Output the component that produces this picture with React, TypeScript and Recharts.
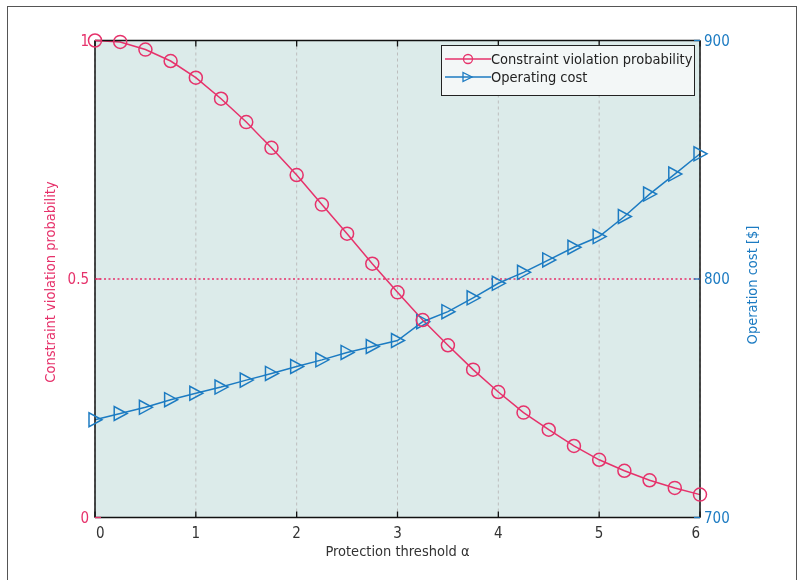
import { LineChart, Line, XAxis, YAxis, CartesianGrid, ReferenceLine, Legend } from 'recharts'

const alpha = [0, 0.25, 0.5, 0.75, 1, 1.25, 1.5, 1.75, 2, 2.25, 2.5, 2.75, 3, 3.25, 3.5, 3.75, 4, 4.25, 4.5, 4.75, 5, 5.25, 5.5, 5.75, 6]
const violationProb = [1.0, 0.997, 0.981, 0.957, 0.922, 0.878, 0.829, 0.775, 0.718, 0.656, 0.595, 0.532, 0.472, 0.414, 0.361, 0.31, 0.263, 0.22, 0.184, 0.15, 0.121, 0.098, 0.078, 0.062, 0.048]
const operatingCost = [741, 743.6, 746.2, 749.4, 752.1, 754.7, 757.6, 760.4, 763.3, 766.1, 769.2, 771.7, 774.2, 782.1, 786.3, 792.1, 798.2, 802.8, 808, 813.3, 817.8, 826.2, 835.6, 844, 852.5]
const xTicks = [0, 1, 2, 3, 4, 5, 6]
const probTicks = [0, 0.5, 1]
const costTicks = [700, 800, 900]

const PINK = '#e6326b'
const BLUE = '#1c7bc2'
const TEXT = '#333'
const FONT = '"DejaVu Sans Condensed", "Liberation Sans Narrow", "Roboto", sans-serif'
const FS = 14.5

const data = alpha.map((a, i) => ({ alpha: a, prob: violationProb[i], cost: operatingCost[i] }))

const legendItems = [
  { name: 'Constraint violation probability', color: PINK, marker: 'circle' },
  { name: 'Operating cost', color: BLUE, marker: 'triangle' },
]

function CircleDot(props: any) {
  const { cx, cy, index } = props
  return <circle key={`c${index}`} cx={cx} cy={cy} r={6.5} fill="none" stroke={PINK} strokeWidth={1.5} />
}

function TriangleDot(props: any) {
  const { cx, cy, index } = props
  return (
    <polygon
      key={`t${index}`}
      points={`${cx - 6},${cy - 7} ${cx - 6},${cy + 7} ${cx + 7},${cy}`}
      fill="none"
      stroke={BLUE}
      strokeWidth={1.5}
    />
  )
}

function XTick(props: any) {
  const { x, y, payload } = props
  const anchor = payload.value === 0 ? 'start' : payload.value === 6 ? 'end' : 'middle'
  return (
    <text x={anchor === 'start' ? x + 1 : x} y={y + 20} textAnchor={anchor} fill={TEXT} fontSize={FS + 0.5} fontFamily={FONT}>
      {payload.value}
    </text>
  )
}

function LegendBox() {
  return (
    <div style={{ width: 252, height: 45, border: '1px solid #222', background: '#f3f7f7', fontFamily: FONT, fontSize: FS, color: '#222', paddingTop: 4, boxSizing: 'content-box' }}>
      {legendItems.map((item) => (
        <div key={item.name} style={{ display: 'flex', alignItems: 'center', height: 18, lineHeight: '18px' }}>
          <svg width={49} height={18} style={{ flex: 'none' }}>
            <line x1={3} x2={49} y1={9} y2={9} stroke={item.color} strokeWidth={1.3} />
            {item.marker === 'circle' ? (
              <circle cx={26} cy={9} r={4.5} fill="none" stroke={item.color} strokeWidth={1.3} />
            ) : (
              <polygon points="21,4.5 21,13.5 30,9" fill="none" stroke={item.color} strokeWidth={1.3} />
            )}
          </svg>
          <span style={{ whiteSpace: 'nowrap' }}>{item.name}</span>
        </div>
      ))}
    </div>
  )
}

export default function App() {
  return (
    <div style={{ position: 'relative', width: 788, height: 564 }}>
      <div style={{ position: 'fixed', left: 7, top: 6, width: 788, height: 620, border: '1.5px solid #555', borderBottom: 'none', pointerEvents: 'none' }} />
      <LineChart width={788} height={564} data={data} margin={{ top: 31.5, right: 0, bottom: 0, left: 0 }}>
        <CartesianGrid yAxisId="left" horizontal={false} stroke="#bdbdbd" strokeDasharray="3 3" fill="#dcebea" fillOpacity={1} />
        <XAxis
          dataKey="alpha"
          type="number"
          domain={[0, 6]}
          ticks={xTicks}
          height={54.5}
          tickSize={-6}
          tickMargin={6}
          axisLine={{ stroke: '#111', strokeWidth: 1.5 }}
          tickLine={{ stroke: '#111', strokeWidth: 1.3 }}
          tick={<XTick />}
          label={{
            content: ({ viewBox }: any) => (
              <text x={viewBox.x + viewBox.width / 2} y={viewBox.y + 38} textAnchor="middle" fill={TEXT} fontSize={FS} fontFamily={FONT}>
                Protection threshold α
              </text>
            ),
          }}
        />
        <XAxis
          xAxisId="top"
          orientation="top"
          dataKey="alpha"
          type="number"
          domain={[0, 6]}
          ticks={xTicks}
          height={1}
          tickSize={-6}
          tickMargin={0}
          tick={() => <g />}
          axisLine={{ stroke: '#111', strokeWidth: 1.5 }}
          tickLine={{ stroke: '#111', strokeWidth: 1.3 }}
        />
        <YAxis
          yAxisId="left"
          type="number"
          domain={[0, 1]}
          ticks={probTicks}
          width={87}
          tickSize={-6}
          tickMargin={12}
          axisLine={{ stroke: '#111', strokeWidth: 1.5 }}
          tickLine={{ stroke: PINK, strokeWidth: 1.3 }}
          tick={{ fill: PINK, fontSize: FS + 0.5, fontFamily: FONT }}
          label={{
            content: ({ viewBox }: any) => (
              <text
                transform={`translate(${viewBox.x + 42},${viewBox.y + viewBox.height / 2 + 3}) rotate(-90)`}
                textAnchor="middle"
                dominantBaseline="central"
                fill={PINK}
                fontSize={FS}
                fontFamily={FONT}
              >
                Constraint violation probability
              </text>
            ),
          }}
        />
        <YAxis
          yAxisId="right"
          orientation="right"
          type="number"
          domain={[700, 900]}
          ticks={costTicks}
          width={96}
          tickSize={-6}
          tickMargin={10}
          axisLine={{ stroke: '#111', strokeWidth: 1.5 }}
          tickLine={{ stroke: BLUE, strokeWidth: 1.3 }}
          tick={{ fill: BLUE, fontSize: FS + 0.5, fontFamily: FONT }}
          label={{
            content: ({ viewBox }: any) => (
              <text
                transform={`translate(${viewBox.x + 52},${viewBox.y + viewBox.height / 2 + 6}) rotate(-90)`}
                textAnchor="middle"
                dominantBaseline="central"
                fill={BLUE}
                fontSize={FS}
                fontFamily={FONT}
              >
                Operation cost [$]
              </text>
            ),
          }}
        />
        <ReferenceLine yAxisId="left" y={0.5} stroke={PINK} strokeWidth={1.5} strokeDasharray="2 2.5" />
        <Line
          yAxisId="right"
          type="linear"
          dataKey="cost"
          name="Operating cost"
          stroke={BLUE}
          strokeWidth={1.5}
          dot={TriangleDot}
          activeDot={false}
          isAnimationActive={false}
        />
        <Line
          xAxisId="top"
          yAxisId="left"
          type="linear"
          dataKey="prob"
          name="Constraint violation probability"
          stroke={PINK}
          strokeWidth={1.5}
          dot={CircleDot}
          activeDot={false}
          isAnimationActive={false}
        />
        <Legend
          layout="vertical"
          align="center"
          verticalAlign="middle"
          content={() => <LegendBox />}
          wrapperStyle={{ position: 'absolute', left: 433, top: 37, width: 'auto', height: 'auto' }}
        />
      </LineChart>
    </div>
  )
}
